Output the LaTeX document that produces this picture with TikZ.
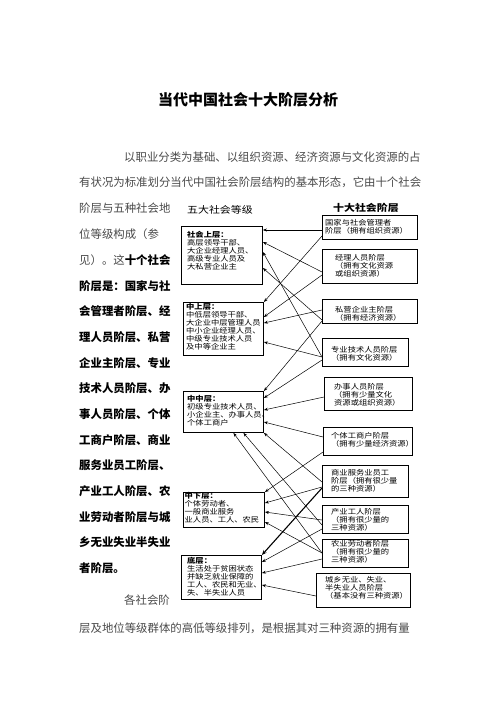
\documentclass[tikz,border=0pt]{standalone}
\usepackage{fontspec}
\setmainfont{Noto Sans CJK SC}
\newfontfamily\dgm[FakeStretch=1.15]{Noto Sans CJK SC}
\usetikzlibrary{arrows.meta,calc}
\definecolor{bodygray}{HTML}{4A4A4A}
\begin{document}
\begin{tikzpicture}[x=1pt,y=-1pt,
  box/.style={draw=black, line width=0.9pt, inner sep=0pt, anchor=north west},
  para/.style={anchor=west, inner sep=0pt, font=\fontsize{11.4}{11.4}\selectfont, text=bodygray},
  dtext/.style={anchor=north west, inner sep=0pt, align=left, font=\dgm\fontsize{7.2}{8}\selectfont},
  arr/.style={-{Stealth[length=4pt,width=3pt]}, line width=0.5pt},
  thickarr/.style={-{Stealth[length=5pt,width=4pt]}, line width=1.1pt}]
\useasboundingbox (0,0) rectangle (496,702);
\fill[white] (0,0) rectangle (496,702);
% title
\node[font=\fontsize{15}{15}\selectfont\bfseries, inner sep=0pt] (title) at (248,100) {当代中国社会十大阶层分析};
% paragraph
\node[para] (p1) at (124,157) {以职业分类为基础、以组织资源、经济资源与文化资源的占};
\node[para] (p2) at (79,182) {有状况为标准划分当代中国社会阶层结构的基本形态，它由十个社会};
\node[para] (p3) at (79,208) {阶层与五种社会地};
\node[para] (p4) at (79,234) {位等级构成（参};
\node[para] (p5) at (79,260) {见）。这\textcolor{black}{\bfseries 十个社会}};
\node[para, text=black, font=\fontsize{11.4}{11.4}\selectfont\bfseries] (p6) at (79,286) {阶层是：国家与社};
\node[para, text=black, font=\fontsize{11.4}{11.4}\selectfont\bfseries] (p7) at (79,311) {会管理者阶层、经};
\node[para, text=black, font=\fontsize{11.4}{11.4}\selectfont\bfseries] (p8) at (79,337) {理人员阶层、私营};
\node[para, text=black, font=\fontsize{11.4}{11.4}\selectfont\bfseries] (p9) at (79,363) {企业主阶层、专业};
\node[para, text=black, font=\fontsize{11.4}{11.4}\selectfont\bfseries] (p10) at (79,388) {技术人员阶层、办};
\node[para, text=black, font=\fontsize{11.4}{11.4}\selectfont\bfseries] (p11) at (79,414) {事人员阶层、个体};
\node[para, text=black, font=\fontsize{11.4}{11.4}\selectfont\bfseries] (p12) at (79,440) {工商户阶层、商业};
\node[para, text=black, font=\fontsize{11.4}{11.4}\selectfont\bfseries] (p13) at (79,465) {服务业员工阶层、};
\node[para, text=black, font=\fontsize{11.4}{11.4}\selectfont\bfseries] (p14) at (79,491) {产业工人阶层、农};
\node[para, text=black, font=\fontsize{11.4}{11.4}\selectfont\bfseries] (p15) at (79,517) {业劳动者阶层与城};
\node[para, text=black, font=\fontsize{11.4}{11.4}\selectfont\bfseries] (p16) at (79,542) {乡无业失业半失业};
\node[para, text=black, font=\fontsize{11.4}{11.4}\selectfont\bfseries] (p17) at (79,568) {者阶层。};
\node[para] (p18) at (124,600) {各社会阶};
\node[para] (p19) at (79,628) {层及地位等级群体的高低等级排列，是根据其对三种资源的拥有量};
% headers
\node[anchor=west, inner sep=0pt, font=\dgm\fontsize{9.5}{9.5}\selectfont] (hl) at (187,210) {五大社会等级};
\node[anchor=west, inner sep=0pt, font=\dgm\fontsize{9.5}{9.5}\selectfont\bfseries] (hr) at (333,208) {十大社会阶层};
% left boxes
\node[box, minimum width=81pt, minimum height=58pt] (L1) at (181,226) {};
\node[box, minimum width=80pt, minimum height=53pt] (L2) at (183,302) {};
\node[box, minimum width=80pt, minimum height=41pt] (L3) at (183,391) {};
\node[box, minimum width=81pt, minimum height=35pt] (L4) at (183,492) {};
\node[box, minimum width=80pt, minimum height=44pt] (L5) at (181,555) {};
\node[dtext] (L1t) at (187,231) {\textbf{社会上层：}\\高层领导干部、\\大企业经理人员、\\高级专业人员及\\大私营企业主};
\node[dtext] (L2t) at (186,303.5) {\textbf{中上层：}\\中低层领导干部、\\大企业中层管理人员\\中小企业经理人员、\\中级专业技术人员\\及中等企业主};
\node[dtext] (L3t) at (187,395) {\textbf{中中层：}\\初级专业技术人员、\\小企业主、办事人员、\\个体工商户};
\node[dtext] (L4t) at (184.5,492.5) {\textbf{中下层：}\\个体劳动者、\\一般商业服务\\业人员、工人、农民};
\node[dtext] (L5t) at (187,557) {\textbf{底层：}\\生活处于贫困状态\\并缺乏就业保障的\\工人、农民和无业、\\失、半失业人员};
% right boxes
\node[box, minimum width=95pt, minimum height=24pt] (R1) at (322,215) {};
\node[box, minimum width=95pt, minimum height=34pt] (R2) at (322,249) {};
\node[box, minimum width=95pt, minimum height=24pt] (R3) at (322,299) {};
\node[box, minimum width=86pt, minimum height=28pt] (R4) at (322,338) {};
\node[box, minimum width=88pt, minimum height=33pt] (R5) at (324,377) {};
\node[box, minimum width=89pt, minimum height=28pt] (R6) at (323,427) {};
\node[box, minimum width=86pt, minimum height=32pt] (R7) at (322,465) {};
\node[box, minimum width=86pt, minimum height=28pt] (R8) at (322,505) {};
\node[box, minimum width=86pt, minimum height=28pt] (R9) at (322,539) {};
\node[box, minimum width=94pt, minimum height=34pt] (R10) at (316,573) {};
\node[dtext] (R1t) at (325,219.5) {国家与社会管理者\\阶层（拥有组织资源）};
\node[dtext] (R2t) at (335,254.5) {经理人员阶层\\（拥有文化资源\\或组织资源）};
\node[dtext] (R3t) at (335,306.5) {私营企业主阶层\\（拥有经济资源）};
\node[dtext] (R4t) at (331,346.5) {专业技术人员阶层\\（拥有文化资源）};
\node[dtext] (R5t) at (334,383.5) {办事人员阶层\\（拥有少量文化\\资源或组织资源）};
\node[dtext] (R6t) at (331,432.5) {个体工商户阶层\\（拥有少量经济资源）};
\node[dtext] (R7t) at (331,469.5) {商业服务业员工\\阶层（拥有很少量\\的三种资源）};
\node[dtext] (R8t) at (331,508.5) {产业工人阶层\\（拥有很少量的\\三种资源）};
\node[dtext] (R9t) at (331,540.5) {农业劳动者阶层\\（拥有很少量的\\三种资源）};
\node[dtext] (R10t) at (325,576.5) {城乡无业、失业、\\半失业人员阶层\\（基本没有三种资源）};
% connectors
\draw[arr] ($(R1.north west)+(0,15)$) -- ($(L1.north east)+(0,4)$);
\draw[arr] ($(R2.north west)+(0,23)$) -- ($(L1.north east)+(0,16)$);
\draw[arr] ($(R4.north west)+(0,19)$) -- ($(L1.north east)+(0,26)$);
\draw[arr] ($(R3.north west)+(0,21)$) -- ($(L1.north east)+(0,42)$);
\draw[arr] ($(R1.north west)+(0,21)$) -- (L2.north east);
\draw[arr] ($(R2.north west)+(0,26)$) -- ($(L2.north east)+(0,15)$);
\draw[arr] ($(R3.north west)+(0,11)$) -- ($(L2.north east)+(0,21)$);
\draw[arr] ($(R4.north west)+(0,19)$) -- ($(L2.north east)+(0,40)$);
\draw[arr] ($(R3.north west)+(0,22)$) -- (L3.north east);
\draw[arr] ($(R4.north west)+(0,22)$) -- ($(L3.north east)+(0,7)$);
\draw[arr] ($(R5.north west)+(0,20)$) -- ($(L3.north east)+(0,19)$);
\draw[arr] ($(R6.north west)+(0,10)$) -- ($(L3.north east)+(0,31)$);
\draw[arr] ($(R7.north west)+(0,17)$) -- (L3.south east);
\draw[arr] ($(R9.north west)+(0,14)$) -- ($(L3.south)+(10,0)$);
\draw[arr] ($(R8.north west)+(0,20)$) -- ($(L3.south)+(20,0)$);
\draw[arr] ($(R6.north west)+(0,25)$) -- (L4.north east);
\draw[arr] ($(R7.north west)+(0,22)$) -- ($(L4.north east)+(0,11)$);
\draw[arr] ($(R8.north west)+(0,15)$) -- ($(L4.north east)+(0,20)$);
\draw[arr] ($(R9.north west)+(0,14)$) -- ($(L4.north east)+(0,30)$);
\draw[thickarr] ($(R7.north west)+(0,23)$) -- (L5.north east);
\draw[arr] ($(R8.north west)+(0,24)$) -- ($(L5.north east)+(0,7)$);
\draw[arr] ($(R9.north west)+(0,20)$) -- ($(L5.north east)+(0,18)$);
\draw[arr] ($(R10.north west)+(0,23)$) -- ($(L5.north east)+(0,30)$);
\end{tikzpicture}
\end{document}
